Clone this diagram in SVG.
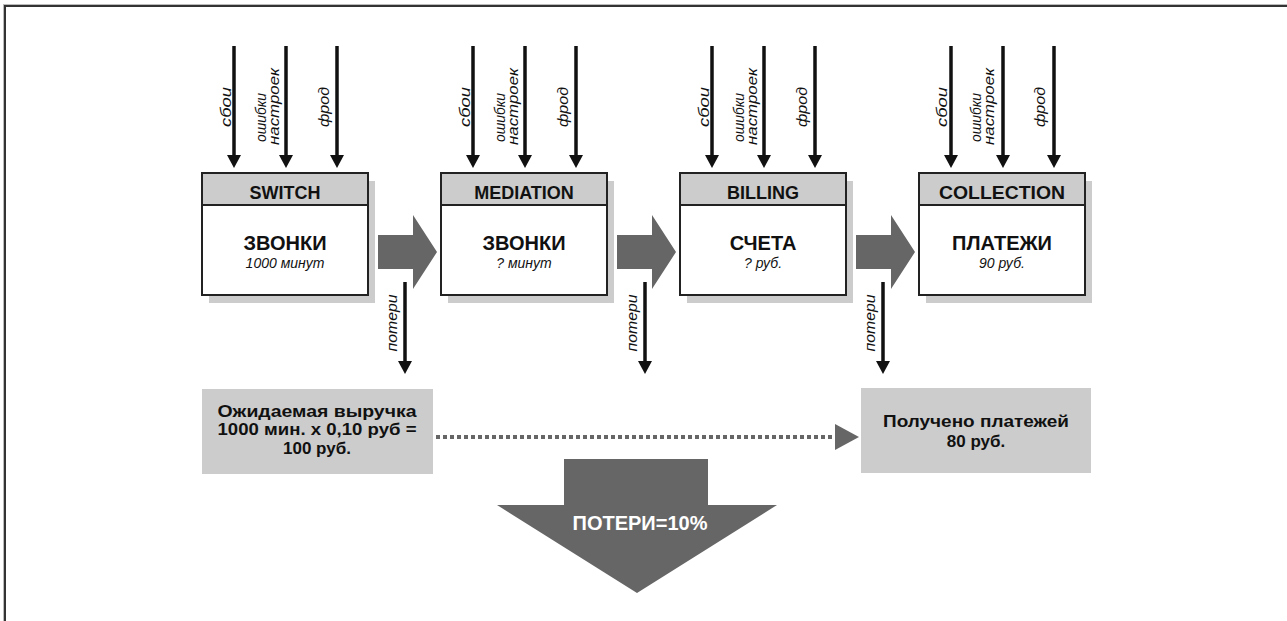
<svg xmlns="http://www.w3.org/2000/svg" width="1287" height="621" viewBox="0 0 1287 621">
<style>
.frame{fill:none;stroke:#333;stroke-width:2}
.frame2{fill:none;stroke:#bbb;stroke-width:1}
.shadow{fill:#cccccc}
.box{fill:#fff;stroke:#222;stroke-width:2}
.hdr{fill:#cccccc;stroke:#222;stroke-width:2}
.hdrt{font-family:"Liberation Sans",Arial,sans-serif;font-weight:bold;font-size:18px;fill:#111;text-anchor:middle}
.main{font-family:"Liberation Sans",Arial,sans-serif;font-weight:bold;font-size:20px;fill:#111;text-anchor:middle}
.sub{font-family:"Liberation Sans",Arial,sans-serif;font-style:italic;font-size:14px;fill:#111;text-anchor:middle}
.lbl{font-family:"Liberation Sans",Arial,sans-serif;font-style:italic;font-size:15px;fill:#111;text-anchor:middle}
.res{fill:#cccccc}
.rest{font-family:"Liberation Sans",Arial,sans-serif;font-weight:bold;font-size:17px;fill:#111;text-anchor:middle}
.big{fill:#666}
.bigt{font-family:"Liberation Sans",Arial,sans-serif;font-weight:bold;font-size:20px;fill:#fff;text-anchor:middle}
.in{stroke:#111;stroke-width:3.5;fill:none;marker-end:url(#ah)}
.dot{stroke:#666;stroke-width:4;stroke-dasharray:4 3;fill:none}
</style>
<defs>
<marker id="ah" markerUnits="userSpaceOnUse" viewBox="0 0 13 14" refX="0" refY="7" markerWidth="13" markerHeight="14" orient="auto">
<path d="M0,0 L13,7 L0,14 Z" fill="#111"/>
</marker>
</defs>

<rect class="frame2" x="3.5" y="4.5" width="1400" height="700"/>
<rect class="frame" x="5" y="6" width="1400" height="700"/>

<g id="connectors">
<line class="in" x1="234" y1="46" x2="234" y2="155"/>
<line class="in" x1="286" y1="46" x2="286" y2="155"/>
<line class="in" x1="337" y1="46" x2="337" y2="155"/>
<line class="in" x1="473" y1="46" x2="473" y2="155"/>
<line class="in" x1="525" y1="46" x2="525" y2="155"/>
<line class="in" x1="576" y1="46" x2="576" y2="155"/>
<line class="in" x1="712" y1="46" x2="712" y2="155"/>
<line class="in" x1="764" y1="46" x2="764" y2="155"/>
<line class="in" x1="815" y1="46" x2="815" y2="155"/>
<line class="in" x1="951" y1="46" x2="951" y2="155"/>
<line class="in" x1="1003" y1="46" x2="1003" y2="155"/>
<line class="in" x1="1054" y1="46" x2="1054" y2="155"/>
<line class="in" x1="405" y1="282" x2="405" y2="361"/>
<line class="in" x1="645" y1="282" x2="645" y2="361"/>
<line class="in" x1="883" y1="282" x2="883" y2="361"/>
<polygon class="big" points="378,235 413,235 413,215 437,252 413,289 413,269 378,269"/>
<polygon class="big" points="617,235 652,235 652,215 676,252 652,289 652,269 617,269"/>
<polygon class="big" points="856,235 891,235 891,215 915,252 891,289 891,269 856,269"/>
<line class="dot" x1="436" y1="437" x2="834" y2="437"/>
<polygon class="big" points="835,424 859,437 835,450"/>
</g>

<g id="labels">
<text class="lbl" transform="translate(231,107) rotate(-90)" textLength="40" lengthAdjust="spacingAndGlyphs">сбои</text>
<text class="lbl" transform="translate(266,117.5) rotate(-90)" textLength="49" lengthAdjust="spacingAndGlyphs">ошибки</text>
<text class="lbl" transform="translate(279,106.5) rotate(-90)" textLength="77" lengthAdjust="spacingAndGlyphs">настроек</text>
<text class="lbl" transform="translate(329,107) rotate(-90)" textLength="40" lengthAdjust="spacingAndGlyphs">фрод</text>

<text class="lbl" transform="translate(470,107) rotate(-90)" textLength="40" lengthAdjust="spacingAndGlyphs">сбои</text>
<text class="lbl" transform="translate(505,117.5) rotate(-90)" textLength="49" lengthAdjust="spacingAndGlyphs">ошибки</text>
<text class="lbl" transform="translate(518,106.5) rotate(-90)" textLength="77" lengthAdjust="spacingAndGlyphs">настроек</text>
<text class="lbl" transform="translate(568,107) rotate(-90)" textLength="40" lengthAdjust="spacingAndGlyphs">фрод</text>

<text class="lbl" transform="translate(709,107) rotate(-90)" textLength="40" lengthAdjust="spacingAndGlyphs">сбои</text>
<text class="lbl" transform="translate(744,117.5) rotate(-90)" textLength="49" lengthAdjust="spacingAndGlyphs">ошибки</text>
<text class="lbl" transform="translate(757,106.5) rotate(-90)" textLength="77" lengthAdjust="spacingAndGlyphs">настроек</text>
<text class="lbl" transform="translate(807,107) rotate(-90)" textLength="40" lengthAdjust="spacingAndGlyphs">фрод</text>

<text class="lbl" transform="translate(947,107) rotate(-90)" textLength="40" lengthAdjust="spacingAndGlyphs">сбои</text>
<text class="lbl" transform="translate(981,117.5) rotate(-90)" textLength="49" lengthAdjust="spacingAndGlyphs">ошибки</text>
<text class="lbl" transform="translate(994,106.5) rotate(-90)" textLength="77" lengthAdjust="spacingAndGlyphs">настроек</text>
<text class="lbl" transform="translate(1045,107) rotate(-90)" textLength="40" lengthAdjust="spacingAndGlyphs">фрод</text>

<text class="lbl" transform="translate(397,323) rotate(-90)" textLength="57" lengthAdjust="spacingAndGlyphs">потери</text>
<text class="lbl" transform="translate(637,323) rotate(-90)" textLength="57" lengthAdjust="spacingAndGlyphs">потери</text>
<text class="lbl" transform="translate(875,323) rotate(-90)" textLength="57" lengthAdjust="spacingAndGlyphs">потери</text>
</g>

<g id="switch">
<rect class="shadow" x="209" y="181" width="166" height="122"/>
<rect class="box" x="202" y="173" width="166" height="122"/>
<rect class="hdr" x="202" y="173" width="166" height="32"/>
<text class="hdrt" x="285" y="199">SWITCH</text>
<text class="main" x="285" y="250">ЗВОНКИ</text>
<text class="sub" x="285" y="268">1000 минут</text>
</g>

<g id="mediation">
<rect class="shadow" x="448" y="181" width="166" height="122"/>
<rect class="box" x="441" y="173" width="166" height="122"/>
<rect class="hdr" x="441" y="173" width="166" height="32"/>
<text class="hdrt" x="524" y="199">MEDIATION</text>
<text class="main" x="524" y="250">ЗВОНКИ</text>
<text class="sub" x="524" y="268">? минут</text>
</g>

<g id="billing">
<rect class="shadow" x="687" y="181" width="166" height="122"/>
<rect class="box" x="680" y="173" width="166" height="122"/>
<rect class="hdr" x="680" y="173" width="166" height="32"/>
<text class="hdrt" x="763" y="199">BILLING</text>
<text class="main" x="763" y="250">СЧЕТА</text>
<text class="sub" x="763" y="268">? руб.</text>
</g>

<g id="collection">
<rect class="shadow" x="926" y="181" width="166" height="122"/>
<rect class="box" x="919" y="173" width="166" height="122"/>
<rect class="hdr" x="919" y="173" width="166" height="32"/>
<text class="hdrt" x="1002" y="199" textLength="126" lengthAdjust="spacingAndGlyphs">COLLECTION</text>
<text class="main" x="1002" y="250">ПЛАТЕЖИ</text>
<text class="sub" x="1002" y="268">90 руб.</text>
</g>

<g id="expected">
<rect class="res" x="202" y="389" width="231" height="85"/>
<text class="rest" x="317" y="417" textLength="199" lengthAdjust="spacingAndGlyphs">Ожидаемая выручка</text>
<text class="rest" x="317" y="435" textLength="199" lengthAdjust="spacingAndGlyphs">1000 мин. х 0,10 руб =</text>
<text class="rest" x="317" y="454">100 руб.</text>
</g>

<g id="received">
<rect class="res" x="861" y="388" width="230" height="85"/>
<text class="rest" x="976" y="427" textLength="186" lengthAdjust="spacingAndGlyphs">Получено платежей</text>
<text class="rest" x="976" y="447">80 руб.</text>
</g>

<g id="losses">
<polygon class="big" points="564,459 708,459 708,505 777,505 637,593 497,505 564,505"/>
<text class="bigt" x="640" y="530">ПОТЕРИ=10%</text>
</g>
</svg>
